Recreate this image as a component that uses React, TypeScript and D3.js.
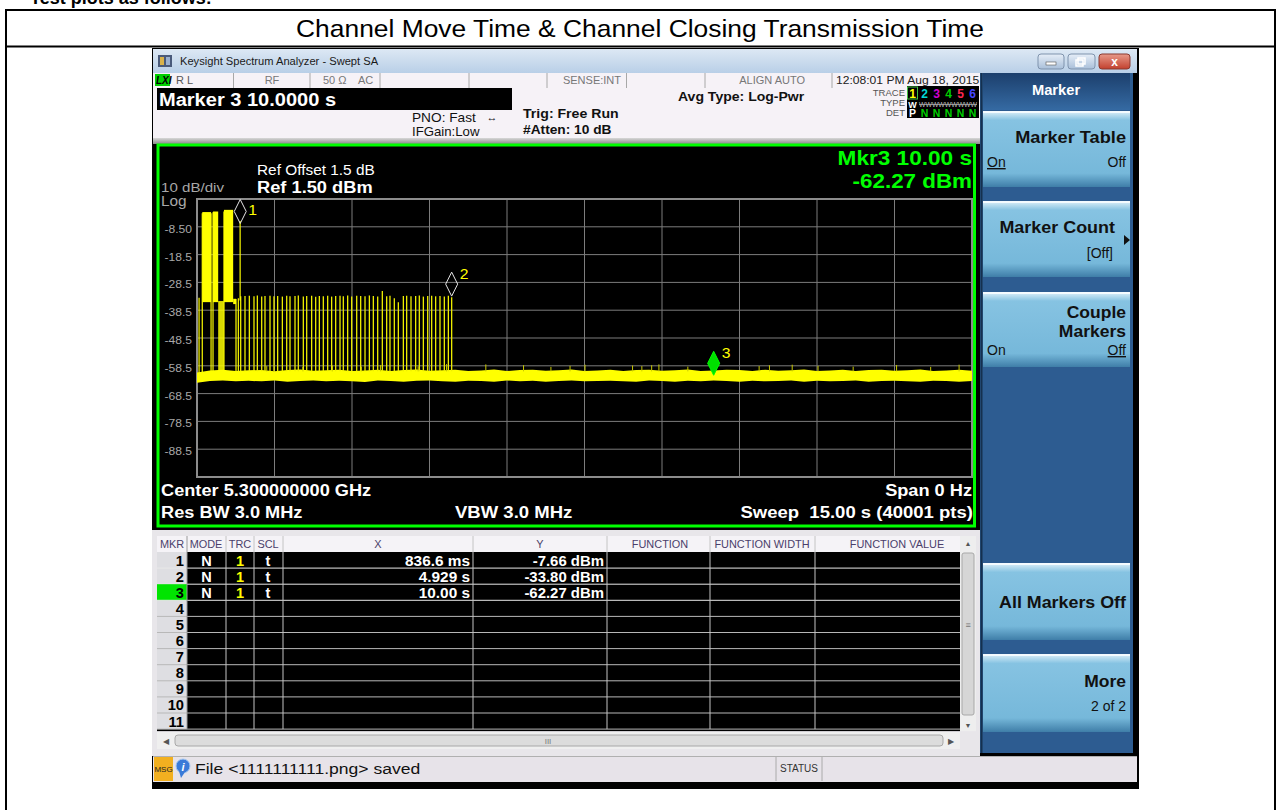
import React from "react";
import * as d3 from "d3";

const FONT = "'Liberation Sans', Arial, sans-serif";

// ---------------- chart data ----------------
const sweepSeconds = 15;
const refLevel = 1.5;
const bottomLevel = -98.5;
const yTickValues = [-8.5, -18.5, -28.5, -38.5, -48.5, -58.5, -68.5, -78.5, -88.5];
const yTickLabels = ["-8.50", "-18.5", "-28.5", "-38.5", "-48.5", "-58.5", "-68.5", "-78.5", "-88.5"];
const timeGridValues = [0, 1.5, 3, 4.5, 6, 7.5, 9, 10.5, 12, 13.5, 15];
const levelGridValues = [1.5, -8.5, -18.5, -28.5, -38.5, -48.5, -58.5, -68.5, -78.5, -88.5, -98.5];

const markerIds = [1, 2, 3];
const markerTimes = [0.8366, 4.929, 10.0];
const markerLevels = [-7.66, -33.8, -62.27];
const markerXText = ["836.6 ms", "4.929 s", "10.00 s"];
const markerYText = ["-7.66 dBm", "-33.80 dBm", "-62.27 dBm"];
const tableRowLabels = ["1", "2", "3", "4", "5", "6", "7", "8", "9", "10", "11"];
const tableHeaders = ["MKR", "MODE", "TRC", "SCL", "X", "Y", "FUNCTION", "FUNCTION WIDTH", "FUNCTION VALUE"];

// noise floor envelope, one value every 0.25 s (0 .. 15 s)
const noiseStep = 0.25;
const noiseTop = [
  -60.9, -60.2, -59.9, -60.4, -60.1, -60.0, -60.5, -60.0, -59.8, -60.3,
  -60.1, -59.9, -60.4, -60.2, -59.9, -60.4, -60.0, -59.8, -60.3, -60.1,
  -59.9, -60.4, -60.2, -59.8, -60.4, -60.0, -59.9, -60.3, -60.1, -59.8,
  -60.4, -60.2, -59.9, -60.4, -60.0, -59.9, -60.3, -60.1, -59.8, -60.4,
  -60.2, -59.9, -60.0, -60.4, -59.9, -60.3, -60.1, -59.8, -60.4, -60.2,
  -59.9, -60.4, -60.0, -59.9, -60.3, -60.1, -59.8, -60.4, -60.2, -59.9, -60.3,
];
const noiseBottom = [
  -64.6, -64.0, -63.8, -64.1, -63.9, -64.1, -63.8, -64.2, -64.0, -63.8,
  -64.1, -63.9, -64.1, -64.3, -63.8, -64.0, -64.2, -63.9, -63.8, -64.1,
  -64.2, -63.9, -64.0, -64.2, -63.8, -64.1, -63.9, -64.2, -64.0, -63.8,
  -64.1, -64.0, -63.9, -64.1, -64.2, -63.8, -64.0, -64.2, -63.9, -64.1,
  -63.8, -64.0, -64.2, -63.9, -64.1, -64.0, -63.8, -64.2, -63.9, -64.1,
  -64.0, -63.8, -64.2, -64.0, -63.9, -64.1, -64.2, -63.9, -64.0, -64.2, -64.0,
];
// small noise spikes [time s, level dBm]
const noiseSpikes = [
  [1.35, -58.6], [2.05, -58.9], [2.62, -58.4], [3.18, -58.8], [3.55, -58.2], [4.28, -58.7],
  [4.83, -57.9], [5.59, -58.0], [6.32, -58.3], [6.85, -58.9], [7.22, -58.5], [7.51, -58.1],
  [8.43, -58.4], [8.61, -58.6], [8.8, -58.3], [8.94, -58.0], [9.5, -58.8], [10.88, -58.6],
  [11.08, -58.3], [11.52, -58.1], [12.02, -58.5], [12.7, -58.8], [13.54, -58.2], [14.2, -58.9],
  [14.75, -58.1],
];
// burst blocks [start s, end s, high dBm, low dBm]
const burstBlocks = [
  [0.102, 0.272, -3.2, -35.6],
  [0.31, 0.41, -3.0, -35.6],
  [0.41, 0.52, -35.2, -61.5],
  [0.522, 0.70, -2.4, -35.6],
  [0.70, 0.755, -34.4, -36.3],
  [0.823, 0.846, -6.4, -35.0],
];
// vertical edges of bursts [time s, top dBm]
const burstEdges = [
  [0.04, -34.0], [0.102, -3.6], [0.272, -3.6], [0.31, -3.3], [0.522, -3.0],
  [0.755, -34.5], [0.8, -34.2], [0.846, -33.5],
];
// short pulses between marker 1 and marker 2
const pulseTimes = [
  0.929, 1.013, 1.103, 1.168, 1.252, 1.316, 1.413, 1.49, 1.561, 1.652,
  1.736, 1.8, 1.897, 1.961, 2.058, 2.123, 2.219, 2.297, 2.368, 2.445,
  2.529, 2.606, 2.684, 2.768, 2.832, 2.916, 2.994, 3.091, 3.168, 3.252,
  3.336, 3.413, 3.497, 3.587, 3.671, 3.735, 3.819, 3.897, 3.994, 4.058,
  4.142, 4.232, 4.303, 4.381, 4.465, 4.542, 4.619, 4.703, 4.787, 4.865, 4.929,
];
const pulsePeaks = [
  -33.4, -33.3, -33.5, -33.2, -33.6, -33.4, -33.3, -33.5, -33.4, -33.6,
  -33.3, -33.5, -33.4, -33.2, -33.6, -33.4, -33.3, -33.7, -33.4, -33.5,
  -33.3, -33.6, -33.4, -33.3, -33.5, -33.2, -33.6, -33.3, -33.4, -33.5,
  -33.2, -33.4, -33.6, -31.6, -33.5, -33.3, -34.2, -35.6, -33.4, -33.3,
  -33.5, -33.4, -33.2, -33.6, -33.4, -33.3, -33.5, -33.4, -33.6, -33.3, -33.8,
];

// ---------------- scales ----------------
const xScale = d3.scaleLinear().domain([0, sweepSeconds]).range([197, 972]);
const yScale = d3.scaleLinear().domain([refLevel, bottomLevel]).range([199, 477]);

const GRID_L = xScale(0);
const GRID_R = xScale(sweepSeconds);
const GRID_T = yScale(refLevel);
const GRID_B = yScale(bottomLevel);

type TProps = {
  x: number;
  y: number;
  sx?: number;
  size: number;
  fill?: string;
  bold?: boolean;
  anchor?: "start" | "middle" | "end";
  underline?: boolean;
  italic?: boolean;
  children?: React.ReactNode;
};

// text horizontally widened like the instrument's screen font
function T({ x, y, sx = 1, size, fill = "#111", bold, anchor = "start", underline, italic, children }: TProps) {
  return (
    <text
      transform={`translate(${x},${y}) scale(${sx},1)`}
      fontSize={size}
      fontFamily={FONT}
      fontWeight={bold ? "bold" : "normal"}
      fontStyle={italic ? "italic" : "normal"}
      textAnchor={anchor}
      fill={fill}
      textDecoration={underline ? "underline" : undefined}
      xmlSpace="preserve"
    >
      {children}
    </text>
  );
}

function Softkey({ top, bottom, children }: { top: number; bottom: number; children?: React.ReactNode }) {
  return (
    <g>
      <rect x={983} y={top} width={147} height={bottom - top} fill="url(#keyGrad)" />
      <rect x={983} y={top} width={147} height={2} fill="#f4fbff" />
      {children}
    </g>
  );
}

function Trace() {
  const area = d3
    .area<number>()
    .x((_, i) => xScale(i * noiseStep))
    .y0((_, i) => yScale(noiseBottom[i]))
    .y1((d) => yScale(d));
  const noisePath = area(noiseTop) || "";
  const noiseMid = (t: number) => {
    const i = Math.min(noiseTop.length - 1, Math.round(t / noiseStep));
    return (noiseTop[i] + noiseBottom[i]) / 2;
  };
  return (
    <g clipPath="url(#gridClip)">
      <path d={noisePath} fill="#ffff00" />
      {noiseSpikes.map(([t, v], i) => (
        <line key={"s" + i} x1={xScale(t)} x2={xScale(t)} y1={yScale(-60.5)} y2={yScale(v)} stroke="#c8c800" strokeWidth={1} />
      ))}
      {burstEdges.map(([t, v], i) => (
        <line key={"e" + i} x1={xScale(t)} x2={xScale(t)} y1={yScale(noiseMid(t))} y2={yScale(v)} stroke="#ffff00" strokeWidth={1.2} />
      ))}
      {burstBlocks.map(([t0, t1, hi, lo], i) => (
        <rect
          key={"b" + i}
          x={xScale(t0)}
          width={xScale(t1) - xScale(t0)}
          y={yScale(hi)}
          height={yScale(lo) - yScale(hi)}
          fill="#ffff00"
          opacity={i === 2 ? 0.85 : 1}
        />
      ))}
      {pulseTimes.map((t, i) => (
        <line key={"p" + i} x1={xScale(t)} x2={xScale(t)} y1={yScale(-60.5)} y2={yScale(pulsePeaks[i])} stroke="#eeee00" strokeWidth={1.3} />
      ))}
    </g>
  );
}

function Markers() {
  return (
    <g>
      {markerIds.map((id, i) => {
        const x = xScale(markerTimes[i]);
        const yb = yScale(markerLevels[i]) - 1;
        const d = `M${x},${yb} L${x + 6},${yb - 12} L${x},${yb - 24} L${x - 6},${yb - 12} Z`;
        const active = i === 2;
        const ly = Math.max(GRID_T + 16, yb - 17);
        return (
          <g key={id}>
            <path d={d} fill={active ? "#00e000" : "none"} stroke={active ? "#00ff00" : "#e6e6e6"} strokeWidth={1} />
            <T x={x + 8} y={ly} size={15} sx={1.05} fill="#ffff00">
              {id}
            </T>
          </g>
        );
      })}
    </g>
  );
}

function PlotPanel() {
  return (
    <g>
      <rect x={152} y={144} width={828} height={386} fill="#000" />
      <rect x={158} y={145} width={816.5} height={381} fill="#000" stroke="#00ff00" strokeWidth={3} />
      {timeGridValues.map((t, i) => (
        <line key={"vx" + i} x1={xScale(t)} x2={xScale(t)} y1={GRID_T} y2={GRID_B} stroke="#7c7c7c" strokeWidth={1} />
      ))}
      {levelGridValues.map((v, i) => (
        <line key={"hy" + i} x1={GRID_L} x2={GRID_R} y1={yScale(v)} y2={yScale(v)} stroke="#7c7c7c" strokeWidth={1} />
      ))}
      <rect x={GRID_L} y={GRID_T} width={GRID_R - GRID_L} height={GRID_B - GRID_T} fill="none" stroke="#8c8c8c" strokeWidth={2} />
      {yTickValues.map((v, i) => (
        <T key={"yl" + i} x={192} y={yScale(v) + 6} anchor="end" fill="#a8a8a8" size={11.5} sx={1.05}>
          {yTickLabels[i]}
        </T>
      ))}
      <T x={161} y={192} fill="#a8a8a8" size={13.5} sx={1.12}>10 dB/div</T>
      <T x={161} y={206} fill="#a8a8a8" size={14} sx={1.1}>Log</T>
      <T x={257} y={175} fill="#fff" size={14} sx={1.1}>Ref Offset 1.5 dB</T>
      <T x={257} y={193} fill="#fff" size={17} sx={1.075} bold>Ref 1.50 dBm</T>
      <T x={972} y={165} anchor="end" fill="#00ff00" size={20} sx={1.13} bold>Mkr3 10.00 s</T>
      <T x={972} y={188} anchor="end" fill="#00ff00" size={20} sx={1.12} bold>-62.27 dBm</T>
      <Trace />
      <Markers />
      <T x={161} y={496} fill="#fff" size={17} sx={1.07} bold>Center 5.300000000 GHz</T>
      <T x={161} y={518} fill="#fff" size={17} sx={1.07} bold>Res BW 3.0 MHz</T>
      <T x={455} y={518} fill="#fff" size={17} sx={1.09} bold>VBW 3.0 MHz</T>
      <T x={972} y={496} anchor="end" fill="#fff" size={17} sx={1.07} bold>Span 0 Hz</T>
      <T x={973} y={518} anchor="end" fill="#fff" size={17} sx={1.09} bold>Sweep  15.00 s (40001 pts)</T>
    </g>
  );
}

function MarkerTable() {
  const colSeps = [187, 226, 254, 283, 473, 607, 710, 815];
  const headerX = [172, 206, 240, 268, 378, 540, 660, 762, 897];
  const headTop = 536;
  const headBot = 552;
  const pitch = 16.1;
  const rowsBottom = headBot + pitch * tableRowLabels.length;
  return (
    <g>
      <rect x={152} y={530} width={828} height={226} fill="#e8e6ea" />
      <rect x={157} y={headTop} width={803} height={rowsBottom - headTop + 2} fill="#000" />
      <rect x={157} y={headTop} width={803} height={headBot - headTop} fill="#f5f3f7" />
      {tableHeaders.map((h, i) => (
        <T key={h} x={headerX[i]} y={547.5} anchor="middle" fill="#4b3f6b" size={10.5} sx={1.04}>
          {h}
        </T>
      ))}
      <rect x={157} y={headBot} width={30} height={rowsBottom - headBot} fill="#dedee2" />
      {tableRowLabels.map((r, i) => {
        const top = headBot + pitch * i;
        return (
          <g key={r}>
            {i === 2 && <rect x={157} y={top} width={30} height={pitch} fill="#00e400" />}
            <line x1={157} x2={960} y1={top + pitch} y2={top + pitch} stroke={i < 3 ? "#e8e8e8" : "#b8b8b8"} strokeWidth={1} />
            <T x={184} y={top + 13.5} anchor="end" fill="#000" size={14} sx={1.05} bold>
              {r}
            </T>
          </g>
        );
      })}
      {colSeps.map((x, i) => (
        <line key={"c" + i} x1={x} x2={x} y1={headTop} y2={rowsBottom} stroke={i === 0 ? "#9a9a9a" : "#c4c4c4"} strokeWidth={1} />
      ))}
      {markerIds.map((id, i) => {
        const y = headBot + pitch * i + 13.5;
        return (
          <g key={"m" + id}>
            <T x={206.5} y={y} anchor="middle" fill="#fff" size={14.5} bold>N</T>
            <T x={240} y={y} anchor="middle" fill="#ffff00" size={14.5} bold>1</T>
            <T x={268} y={y} anchor="middle" fill="#fff" size={14.5} bold>t</T>
            <T x={470} y={y} anchor="end" fill="#fff" size={14.5} sx={1.06} bold>{markerXText[i]}</T>
            <T x={604} y={y} anchor="end" fill="#fff" size={14.5} sx={1.03} bold>{markerYText[i]}</T>
          </g>
        );
      })}
      {/* vertical scrollbar */}
      <rect x={960} y={headTop} width={16} height={rowsBottom - headTop + 2} fill="#eeeeee" />
      <rect x={962} y={553} width={12} height={162} rx={2} fill="#d6d6d6" stroke="#a8a8a8" />
      <T x={968} y={546} anchor="middle" size={7} fill="#555">▲</T>
      <T x={968} y={628} anchor="middle" size={9} fill="#777">≡</T>
      <T x={968} y={728} anchor="middle" size={7} fill="#555">▼</T>
      {/* horizontal scrollbar */}
      <rect x={157} y={732} width={803} height={17} fill="#efefef" />
      <rect x={175} y={735} width={768} height={11} rx={3} fill="#dcdcdc" stroke="#a8a8a8" />
      <T x={166} y={744} anchor="middle" size={8} fill="#555">◀</T>
      <T x={951} y={744} anchor="middle" size={8} fill="#555">▶</T>
      <T x={548} y={744} anchor="middle" size={8} fill="#777">III</T>
    </g>
  );
}

function Header() {
  const statusSeps = [233.5, 310, 380, 469, 547, 626.5, 705, 832];
  const traceColors = ["#ffff00", "#00d8d8", "#d000d0", "#00d000", "#ff2850", "#4848ff"];
  return (
    <g>
      {/* window title bar */}
      <rect x={153} y={49} width={984} height={24} fill="url(#titleGrad)" />
      <rect x={158} y={55} width={14} height={12} fill="#4a5a7a" />
      <rect x={160} y={57} width={4} height={8} fill="#d9b24a" />
      <rect x={166} y={57} width={4} height={8} fill="#9ab0d0" />
      <T x={180} y={65} size={11.5} sx={0.97} fill="#1a1a1a">Keysight Spectrum Analyzer - Swept SA</T>
      <rect x={1038} y={54} width={26} height={15} rx={3} fill="url(#btnGrad)" stroke="#7f93ad" />
      <rect x={1046} y={62} width={10} height={3} fill="#fff" stroke="#555" strokeWidth={0.6} />
      <rect x={1068} y={54} width={27} height={15} rx={3} fill="url(#btnGrad)" stroke="#7f93ad" />
      <rect x={1078} y={58} width={7} height={6} fill="none" stroke="#fff" strokeWidth={1.5} />
      <rect x={1076} y={60} width={7} height={6} fill="none" stroke="#fff" strokeWidth={1.5} />
      <rect x={1099} y={54} width={31} height={15} rx={3} fill="url(#closeGrad)" stroke="#8a3a30" />
      <T x={1114.5} y={66} anchor="middle" size={12} bold fill="#fff">x</T>
      {/* status row */}
      <rect x={153} y={73} width={827} height={15} fill="#f6f2f7" />
      {statusSeps.map((x, i) => (
        <line key={i} x1={x} x2={x} y1={73} y2={88} stroke="#a8a8a8" strokeWidth={1} />
      ))}
      <rect x={155} y={74} width={15} height={12} fill="#00d000" />
      <T x={156} y={84} size={10} bold italic fill="#000">LXI</T>
      <T x={176} y={84} size={11} fill="#555">R L</T>
      <T x={272} y={84} size={11} anchor="middle" fill="#777">RF</T>
      <T x={323} y={84} size={11} fill="#777">50 Ω</T>
      <T x={358} y={84} size={11} fill="#777">AC</T>
      <T x={621} y={84} size={11} anchor="end" fill="#777">SENSE:INT</T>
      <T x={805} y={84} size={11} anchor="end" fill="#777">ALIGN AUTO</T>
      <T x={836} y={84} size={11} sx={1.1} fill="#222">12:08:01 PM Aug 18, 2015</T>
      {/* info panel */}
      <rect x={153} y={88} width={827} height={50} fill="#f6f2f7" />
      <rect x={157} y={88} width={355} height={22} fill="#000" />
      <T x={159} y={106} size={19} sx={1.055} bold fill="#fff">Marker 3 10.0000 s</T>
      <T x={412} y={122} size={12} sx={1.14} fill="#111">PNO: Fast</T>
      <T x={492} y={121} size={11} anchor="middle" fill="#111">↔</T>
      <T x={412} y={136} size={12} sx={1.1} fill="#111">IFGain:Low</T>
      <T x={523} y={118} size={12.5} sx={1.13} bold fill="#111">Trig: Free Run</T>
      <T x={523} y={134} size={12.5} sx={1.1} bold fill="#111">#Atten: 10 dB</T>
      <T x={678} y={101} size={13} sx={1.08} bold fill="#111">Avg Type: Log-Pwr</T>
      <T x={905} y={96} size={9.5} anchor="end" fill="#555">TRACE</T>
      <T x={905} y={106} size={9.5} anchor="end" fill="#555">TYPE</T>
      <T x={905} y={116} size={9.5} anchor="end" fill="#555">DET</T>
      <rect x={907} y={86} width={72} height={32} fill="#000" />
      <rect x={907.5} y={87} width={10} height={12} fill="none" stroke="#40c040" strokeWidth={1} />
      {traceColors.map((c, i) => (
        <T key={i} x={912.5 + i * 12} y={98} size={12} bold anchor="middle" fill={c}>
          {i + 1}
        </T>
      ))}
      <T x={912.5} y={107.5} size={9} bold anchor="middle" fill="#fff">W</T>
      <text x={919} y={106.5} fontSize={7} fontFamily={FONT} fill="#bbb" textDecoration="line-through" textLength={58} lengthAdjust="spacingAndGlyphs">WWWWWWWWW</text>
      <T x={912.5} y={117} size={10.5} bold anchor="middle" fill="#fff">P</T>
      {[1, 2, 3, 4, 5].map((i) => (
        <T key={"n" + i} x={912.5 + i * 12} y={117} size={10.5} bold anchor="middle" fill="#00d000">N</T>
      ))}
      <rect x={153} y={138} width={827} height={6} fill="url(#sepGrad)" />
    </g>
  );
}

function RightPanel() {
  return (
    <g>
      <rect x={980} y={73} width={153} height={680} fill="#2d5c91" />
      <line x1={981.5} x2={981.5} y1={73} y2={753} stroke="#15304f" strokeWidth={2} />
      <rect x={983} y={73} width={147} height={37} fill="url(#headGrad)" />
      <T x={1056} y={95} anchor="middle" size={14} sx={1.05} bold fill="#fff">Marker</T>
      <Softkey top={111} bottom={187}>
        <T x={1126} y={143} anchor="end" size={17} sx={1.07} bold>Marker Table</T>
        <T x={987} y={167} size={14} underline>On</T>
        <T x={1126} y={167} anchor="end" size={14}>Off</T>
      </Softkey>
      <Softkey top={201} bottom={277}>
        <T x={1115} y={233} anchor="end" size={17} sx={1.055} bold>Marker Count</T>
        <path d="M1124,235 L1130,240 L1124,245 Z" fill="#111" />
        <T x={1113} y={258} anchor="end" size={14}>[Off]</T>
      </Softkey>
      <Softkey top={292} bottom={367}>
        <T x={1126} y={318} anchor="end" size={17} sx={1.03} bold>Couple</T>
        <T x={1126} y={337} anchor="end" size={17} sx={1.03} bold>Markers</T>
        <T x={987} y={355} size={14}>On</T>
        <T x={1126} y={355} anchor="end" size={14} underline>Off</T>
      </Softkey>
      <Softkey top={563} bottom={640}>
        <T x={1126} y={608} anchor="end" size={17} sx={1.05} bold>All Markers Off</T>
      </Softkey>
      <Softkey top={654} bottom={732}>
        <T x={1126} y={687} anchor="end" size={17} sx={1.03} bold>More</T>
        <T x={1126} y={711} anchor="end" size={14}>2 of 2</T>
      </Softkey>
    </g>
  );
}

function StatusBar() {
  return (
    <g>
      <rect x={153} y={756} width={984} height={26} fill="#e7e3e9" />
      <line x1={153} x2={1137} y1={756.5} y2={756.5} stroke="#b0b0b0" />
      <rect x={154} y={757} width={19} height={24} fill="#f2b020" />
      <T x={163.5} y={772} anchor="middle" size={8} fill="#222">MSG</T>
      <circle cx={183} cy={766} r={7} fill="#3a7ad8" stroke="#a8c8f0" />
      <path d="M179,771 L181,778 L185,772 Z" fill="#3a7ad8" />
      <T x={183} y={770.5} anchor="middle" size={11} bold italic fill="#fff">i</T>
      <T x={195} y={774} size={15} sx={1.17} fill="#111">File &lt;1111111111.png&gt; saved</T>
      <line x1={776} x2={776} y1={757} y2={781} stroke="#aaa" />
      <line x1={822} x2={822} y1={757} y2={781} stroke="#aaa" />
      <T x={799} y={772} anchor="middle" size={10} fill="#333">STATUS</T>
    </g>
  );
}

export default function App() {
  return (
    <svg width={1280} height={810} style={{ position: "absolute", left: 0, top: 0, background: "#fff" }} xmlns="http://www.w3.org/2000/svg">
      <defs>
        <clipPath id="gridClip">
          <rect x={GRID_L} y={GRID_T} width={GRID_R - GRID_L} height={GRID_B - GRID_T} />
        </clipPath>
        <linearGradient id="keyGrad" x1="0" y1="0" x2="0" y2="1">
          <stop offset="0" stopColor="#dff1fa" />
          <stop offset="0.12" stopColor="#86c3e2" />
          <stop offset="0.82" stopColor="#76b8da" />
          <stop offset="1" stopColor="#3f7ea8" />
        </linearGradient>
        <linearGradient id="headGrad" x1="0" y1="0" x2="0" y2="1">
          <stop offset="0" stopColor="#1c3f6c" />
          <stop offset="1" stopColor="#356aa3" />
        </linearGradient>
        <linearGradient id="titleGrad" x1="0" y1="0" x2="0" y2="1">
          <stop offset="0" stopColor="#dde8f4" />
          <stop offset="1" stopColor="#b9cfe7" />
        </linearGradient>
        <linearGradient id="btnGrad" x1="0" y1="0" x2="0" y2="1">
          <stop offset="0" stopColor="#e6eef8" />
          <stop offset="1" stopColor="#a9bfd9" />
        </linearGradient>
        <linearGradient id="closeGrad" x1="0" y1="0" x2="0" y2="1">
          <stop offset="0" stopColor="#e89a8a" />
          <stop offset="1" stopColor="#c2402e" />
        </linearGradient>
        <linearGradient id="sepGrad" x1="0" y1="0" x2="0" y2="1">
          <stop offset="0" stopColor="#d8d8d8" />
          <stop offset="1" stopColor="#8a8a8a" />
        </linearGradient>
      </defs>
      {/* document page */}
      <T x={30} y={4} size={18} bold fill="#000">Test plots as follows:</T>
      <line x1={5} x2={1276} y1={10} y2={10} stroke="#000" strokeWidth={2} />
      <line x1={5} x2={1276} y1={46.5} y2={46.5} stroke="#000" strokeWidth={2} />
      <line x1={6} x2={6} y1={9} y2={810} stroke="#000" strokeWidth={2} />
      <line x1={1275} x2={1275} y1={9} y2={810} stroke="#000" strokeWidth={2} />
      <T x={640} y={37} anchor="middle" size={24} sx={1.1} fill="#000">
        Channel Move Time &amp; Channel Closing Transmission Time
      </T>
      {/* instrument screenshot */}
      <rect x={152} y={48} width={987} height={741} fill="#000" />
      <Header />
      <PlotPanel />
      <MarkerTable />
      <RightPanel />
      <StatusBar />
    </svg>
  );
}
